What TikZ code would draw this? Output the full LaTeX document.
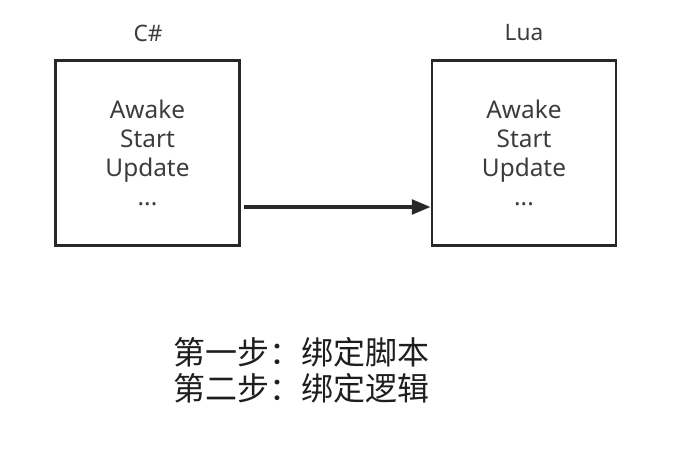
\documentclass[tikz,border=0pt]{standalone}
\usepackage{fontspec}
\setmainfont{Noto Sans}
\newfontfamily\cjk{Noto Sans CJK SC}
\usetikzlibrary{arrows.meta, positioning}
\definecolor{xLine}{RGB}{40,40,40}
\definecolor{xText}{RGB}{60,60,60}
\definecolor{xInk}{RGB}{30,30,30}
\tikzset{
  hook/.style={draw=xLine, line width=2.2pt, minimum width=138pt, minimum height=139pt,
               align=center, text=xText, font=\fontsize{18.3}{21.8}\selectfont, inner sep=0pt},
  lang/.style={text=xText, font=\fontsize{17}{20}\selectfont},
  bind/.style={-{Triangle[length=14pt, width=11pt]}, line width=2.4pt, draw=xLine, shorten <=2pt},
  steps/.style={align=left, text=xInk, anchor=west, inner sep=0pt,
                font=\cjk\fontsize{24}{27}\selectfont},
}

\begin{document}
\begin{tikzpicture}[x=0.75pt, y=-0.75pt]
    \useasboundingbox (0,0) rectangle (685,449);
    \node[hook]  (cs)  at (147.5,153) {Awake\\Start\\Update\\...};
    \node[hook]  (lua) at (524,153)   {Awake\\Start\\Update\\...};
    \node[lang]  (csl)  at (148,33) {C\#};
    \node[lang]  (lual) at (524,33) {Lua};
    \draw[bind] ([yshift=-40.5pt]cs.east) -- ([yshift=-40.5pt]lua.west);
    \node[steps] (st) at (173,370) {第一步：绑定脚本\\第二步：绑定逻辑};
  \end{tikzpicture}
\end{document}
